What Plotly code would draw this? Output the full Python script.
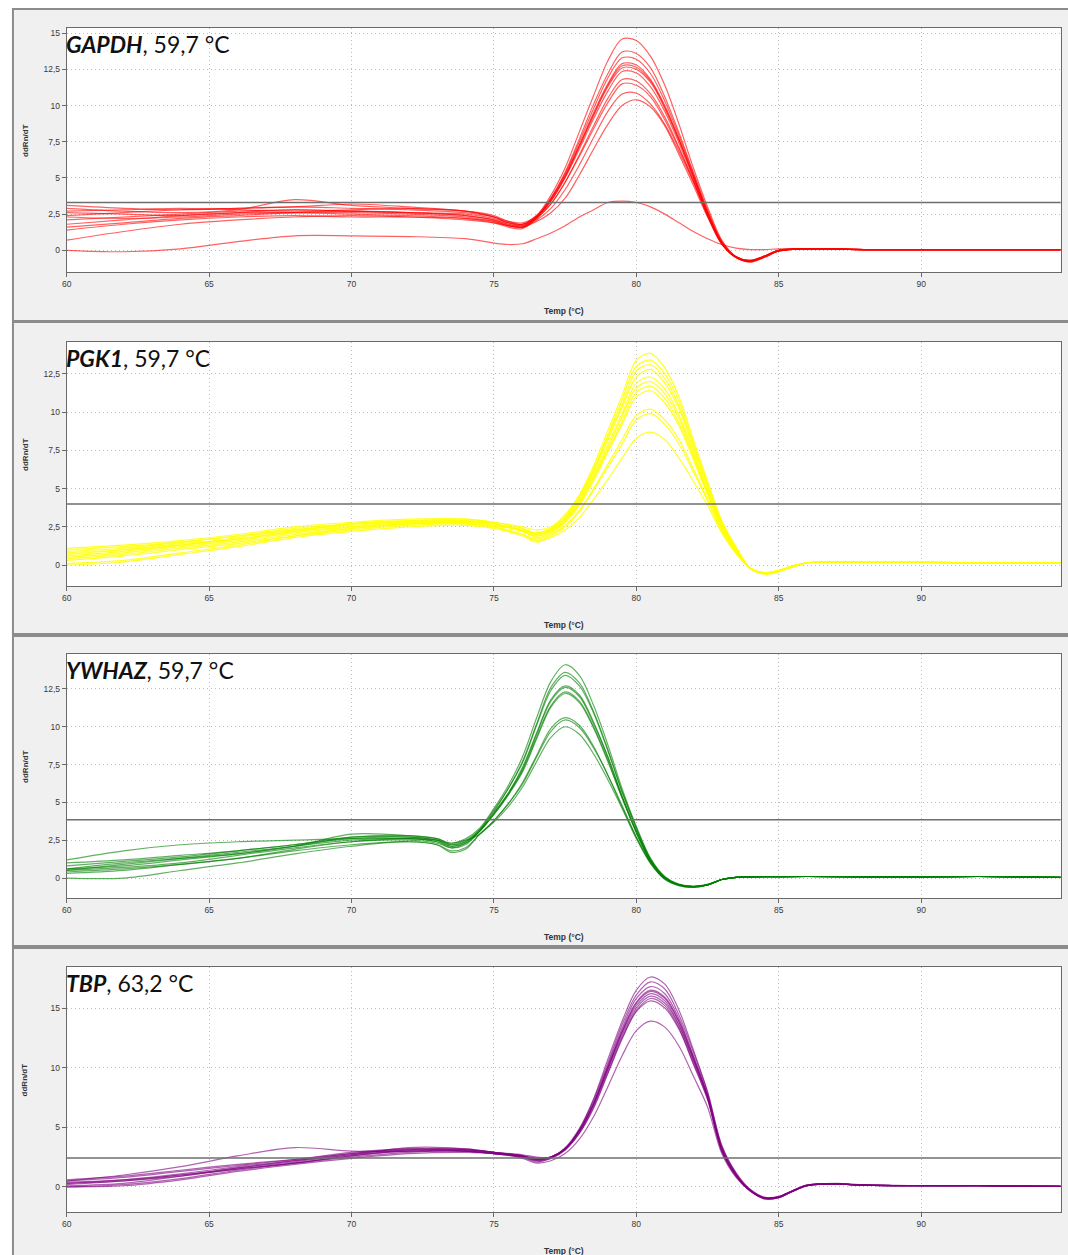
import plotly.graph_objects as go

W, H = 1068, 1255

# ---------------- GAPDH melt curves (derivative reporter, ddRn/dT) ----------------
gapdh_temp = [60, 62, 64, 66, 68, 70, 72, 74, 75, 75.5, 76, 76.5, 77, 77.5, 78, 78.5, 79, 79.5,
              80, 80.5, 81, 81.5, 82, 82.5, 83, 83.5, 84, 84.5, 85, 86, 88, 90, 92, 94.9]
gapdh_curves = [
    [3.1, 2.9, 2.8, 2.9, 3.0, 2.9, 2.8, 2.6, 2.3, 2.0, 1.9, 2.4, 3.8, 5.7, 8.2, 10.7, 13.1, 14.6, 14.5, 13.4, 11.4, 8.7, 5.7, 3.0, 0.7, -0.45, -0.8, -0.45, -0.05, 0.1, 0.05, 0.05, 0.05, 0.05],
    [2.9, 2.7, 2.6, 2.8, 3.5, 3.1, 2.9, 2.7, 2.4, 2.0, 1.8, 2.4, 3.6, 5.4, 7.7, 10.1, 12.2, 13.7, 13.6, 12.6, 10.6, 8.1, 5.4, 2.8, 0.6, -0.5, -0.75, -0.4, 0.0, 0.1, 0.05, 0.05, 0.05, 0.05],
    [2.7, 2.8, 2.9, 2.8, 2.7, 2.8, 2.9, 2.7, 2.3, 1.9, 1.8, 2.3, 3.6, 5.3, 7.5, 9.8, 11.9, 13.3, 13.2, 12.2, 10.3, 7.9, 5.3, 2.7, 0.6, -0.45, -0.75, -0.45, -0.05, 0.1, 0.05, 0.05, 0.05, 0.05],
    [2.6, 2.5, 2.4, 2.6, 2.8, 2.7, 2.6, 2.4, 2.1, 1.8, 1.7, 2.3, 3.5, 5.2, 7.3, 9.5, 11.5, 12.9, 12.8, 11.8, 10.0, 7.7, 5.2, 2.6, 0.5, -0.5, -0.8, -0.5, -0.05, 0.1, 0.05, 0.05, 0.05, 0.05],
    [2.4, 2.6, 2.8, 2.9, 3.0, 3.2, 3.0, 2.7, 2.3, 1.9, 1.8, 2.3, 3.5, 5.1, 7.2, 9.4, 11.4, 12.75, 12.65, 11.7, 9.9, 7.6, 5.1, 2.6, 0.5, -0.45, -0.7, -0.4, 0.0, 0.1, 0.05, 0.05, 0.05, 0.05],
    [2.3, 2.2, 2.3, 2.5, 2.6, 2.6, 2.5, 2.3, 2.0, 1.7, 1.6, 2.3, 3.4, 5.1, 7.2, 9.3, 11.3, 12.6, 12.5, 11.6, 9.8, 7.6, 5.1, 2.6, 0.5, -0.5, -0.75, -0.45, -0.05, 0.1, 0.05, 0.05, 0.05, 0.05],
    [2.1, 2.3, 2.5, 2.7, 2.8, 2.7, 2.6, 2.5, 2.2, 1.9, 1.7, 2.3, 3.4, 5.0, 7.0, 9.1, 11.0, 12.35, 12.25, 11.3, 9.6, 7.4, 5.0, 2.5, 0.5, -0.45, -0.75, -0.4, 0.0, 0.1, 0.05, 0.05, 0.05, 0.05],
    [1.8, 2.1, 2.4, 2.6, 2.6, 2.5, 2.4, 2.2, 1.9, 1.6, 1.5, 2.2, 3.2, 4.7, 6.6, 8.6, 10.5, 11.8, 11.7, 10.8, 9.2, 7.1, 4.8, 2.4, 0.45, -0.5, -0.8, -0.45, -0.05, 0.1, 0.05, 0.05, 0.05, 0.05],
    [1.6, 1.9, 2.2, 2.4, 2.6, 2.7, 2.6, 2.4, 2.1, 1.8, 1.6, 2.2, 3.2, 4.7, 6.5, 8.4, 10.2, 11.5, 11.4, 10.6, 9.0, 7.0, 4.8, 2.4, 0.45, -0.45, -0.7, -0.4, 0.0, 0.1, 0.05, 0.05, 0.05, 0.05],
    [1.4, 1.8, 2.1, 2.3, 2.4, 2.3, 2.3, 2.2, 2.0, 1.7, 1.6, 2.1, 2.9, 4.2, 5.9, 7.8, 9.6, 10.8, 10.85, 10.1, 8.7, 6.8, 4.7, 2.4, 0.4, -0.5, -0.75, -0.45, -0.05, 0.1, 0.05, 0.05, 0.05, 0.05],
    [0.7, 1.3, 1.8, 2.1, 2.3, 2.4, 2.3, 2.1, 1.9, 1.7, 1.6, 2.0, 2.6, 3.6, 5.2, 7.0, 8.7, 10.0, 10.4, 9.9, 8.6, 6.6, 4.5, 2.3, 0.45, -0.45, -0.7, -0.4, 0.0, 0.1, 0.05, 0.05, 0.05, 0.05],
    [0.0, -0.1, 0.1, 0.6, 1.0, 1.0, 0.95, 0.8, 0.5, 0.4, 0.45, 0.8, 1.2, 1.7, 2.3, 2.8, 3.3, 3.4, 3.3, 3.0, 2.5, 1.9, 1.3, 0.8, 0.4, 0.15, 0.05, 0.05, 0.1, 0.1, 0.05, 0.05, 0.05, 0.05],
]
gapdh_threshold = 3.3

# ---------------- PGK1 ----------------
pgk1_temp = [60, 62, 64, 66, 68, 70, 72, 74, 75, 76, 76.5, 77, 77.5, 78, 78.5, 79, 79.5, 80, 80.5,
             81, 81.5, 82, 82.5, 83, 83.5, 84, 84.5, 85, 85.5, 86, 87, 88, 90, 92, 94.9]
pgk1_curves = [
    [1.1, 1.3, 1.6, 2.0, 2.5, 2.8, 3.0, 3.0, 2.8, 2.5, 2.3, 2.5, 3.3, 4.6, 6.5, 8.8, 11.1, 13.4, 13.85, 12.9, 11.0, 8.2, 5.5, 2.9, 1.2, -0.2, -0.55, -0.4, -0.1, 0.15, 0.2, 0.18, 0.17, 0.16, 0.16],
    [1.0, 1.2, 1.5, 1.9, 2.4, 2.7, 2.9, 2.9, 2.7, 2.3, 2.1, 2.4, 3.2, 4.5, 6.3, 8.5, 10.8, 13.0, 13.4, 12.5, 10.7, 8.0, 5.3, 2.8, 1.1, -0.25, -0.55, -0.4, -0.1, 0.15, 0.2, 0.18, 0.17, 0.16, 0.16],
    [0.9, 1.1, 1.5, 1.9, 2.3, 2.7, 2.9, 3.0, 2.8, 2.4, 2.1, 2.4, 3.1, 4.4, 6.2, 8.4, 10.5, 12.7, 13.1, 12.2, 10.4, 7.8, 5.2, 2.7, 1.1, -0.2, -0.5, -0.35, -0.05, 0.15, 0.2, 0.18, 0.17, 0.16, 0.16],
    [0.8, 1.0, 1.3, 1.8, 2.3, 2.6, 2.8, 2.9, 2.7, 2.3, 2.0, 2.3, 3.0, 4.3, 6.1, 8.2, 10.3, 12.3, 12.8, 11.9, 10.2, 7.6, 5.1, 2.7, 1.0, -0.2, -0.55, -0.4, -0.1, 0.15, 0.2, 0.18, 0.17, 0.16, 0.16],
    [0.7, 1.0, 1.4, 1.7, 2.2, 2.7, 2.8, 2.8, 2.6, 2.3, 2.0, 2.3, 3.0, 4.2, 5.9, 7.9, 9.9, 11.9, 12.3, 11.5, 9.8, 7.4, 4.9, 2.6, 1.0, -0.2, -0.55, -0.4, -0.1, 0.15, 0.2, 0.18, 0.17, 0.16, 0.16],
    [0.6, 0.9, 1.3, 1.7, 2.2, 2.5, 2.7, 2.8, 2.7, 2.2, 1.9, 2.2, 2.9, 4.1, 5.8, 7.7, 9.7, 11.6, 12.0, 11.2, 9.6, 7.2, 4.8, 2.5, 0.95, -0.25, -0.6, -0.45, -0.1, 0.15, 0.2, 0.18, 0.17, 0.16, 0.16],
    [0.5, 0.8, 1.2, 1.6, 2.1, 2.5, 2.8, 2.9, 2.7, 2.2, 1.9, 2.2, 2.9, 4.0, 5.7, 7.5, 9.4, 11.3, 11.7, 10.9, 9.3, 7.1, 4.7, 2.5, 0.9, -0.2, -0.55, -0.4, -0.1, 0.15, 0.2, 0.18, 0.17, 0.16, 0.16],
    [0.4, 0.7, 1.1, 1.5, 2.0, 2.4, 2.7, 2.8, 2.6, 2.2, 1.8, 2.1, 2.8, 3.9, 5.5, 7.4, 9.2, 11.0, 11.4, 10.6, 9.1, 6.9, 4.6, 2.4, 0.9, -0.2, -0.5, -0.35, -0.05, 0.15, 0.2, 0.18, 0.17, 0.16, 0.16],
    [0.3, 0.6, 1.0, 1.4, 1.9, 2.3, 2.6, 2.7, 2.5, 2.0, 1.7, 2.0, 2.6, 3.6, 5.0, 6.6, 8.2, 9.8, 10.2, 9.5, 8.2, 6.3, 4.3, 2.3, 0.8, -0.25, -0.55, -0.4, -0.1, 0.15, 0.2, 0.18, 0.17, 0.16, 0.16],
    [0.1, 0.3, 0.8, 1.3, 1.9, 2.4, 2.7, 2.7, 2.5, 2.0, 1.6, 1.9, 2.5, 3.5, 4.9, 6.4, 7.9, 9.5, 9.9, 9.2, 7.9, 6.1, 4.2, 2.2, 0.8, -0.2, -0.5, -0.35, -0.05, 0.15, 0.2, 0.18, 0.17, 0.16, 0.16],
    [0.0, 0.2, 0.7, 1.2, 1.8, 2.2, 2.5, 2.6, 2.4, 1.9, 1.5, 1.8, 2.3, 3.1, 4.3, 5.6, 7.0, 8.3, 8.7, 8.2, 7.0, 5.5, 3.9, 2.1, 0.75, -0.2, -0.5, -0.35, -0.05, 0.15, 0.2, 0.18, 0.17, 0.16, 0.16],
]
pgk1_threshold = 4.0

# ---------------- YWHAZ ----------------
ywhaz_temp = [60, 62, 64, 66, 68, 70, 72, 73, 73.5, 74, 74.5, 75, 75.5, 76, 76.5, 77, 77.5, 78, 78.5,
              79, 79.5, 80, 80.5, 81, 81.5, 82, 82.5, 83, 83.5, 84, 86, 88, 90, 92, 94.9]
ywhaz_curves = [
    [1.2, 1.8, 2.2, 2.4, 2.5, 2.6, 2.6, 2.5, 2.3, 2.6, 3.3, 4.6, 6.1, 8.0, 10.6, 13.0, 14.1, 13.4, 11.4, 8.8, 5.9, 3.4, 1.3, 0.1, -0.4, -0.55, -0.45, -0.1, 0.05, 0.08, 0.1, 0.08, 0.08, 0.1, 0.05],
    [1.0, 1.2, 1.5, 1.8, 2.2, 2.6, 2.7, 2.5, 2.2, 2.5, 3.2, 4.5, 5.9, 7.7, 10.2, 12.6, 13.6, 12.9, 11.0, 8.5, 5.7, 3.3, 1.25, 0.05, -0.45, -0.57, -0.45, -0.1, 0.05, 0.08, 0.1, 0.08, 0.08, 0.1, 0.05],
    [0.8, 1.1, 1.4, 1.8, 2.2, 2.7, 2.7, 2.5, 2.1, 2.4, 3.2, 4.4, 5.9, 7.6, 10.1, 12.4, 13.4, 12.7, 10.9, 8.4, 5.7, 3.3, 1.2, 0.05, -0.45, -0.6, -0.45, -0.1, 0.05, 0.08, 0.1, 0.08, 0.08, 0.1, 0.05],
    [0.6, 0.8, 1.2, 1.6, 2.1, 2.5, 2.6, 2.4, 2.1, 2.3, 3.1, 4.3, 5.6, 7.3, 9.6, 11.8, 12.7, 12.1, 10.3, 8.0, 5.4, 3.1, 1.15, 0.0, -0.45, -0.57, -0.45, -0.1, 0.05, 0.08, 0.1, 0.08, 0.08, 0.1, 0.05],
    [0.5, 0.9, 1.3, 1.7, 2.1, 2.7, 2.8, 2.6, 2.2, 2.4, 3.1, 4.3, 5.6, 7.2, 9.5, 11.7, 12.6, 12.0, 10.2, 8.0, 5.4, 3.1, 1.1, 0.0, -0.45, -0.57, -0.45, -0.1, 0.05, 0.08, 0.1, 0.08, 0.08, 0.1, 0.05],
    [0.5, 0.7, 1.0, 1.5, 2.0, 2.4, 2.6, 2.4, 2.0, 2.3, 3.1, 4.2, 5.5, 7.1, 9.3, 11.4, 12.3, 11.7, 10.0, 7.8, 5.3, 3.0, 1.1, 0.0, -0.45, -0.57, -0.45, -0.1, 0.05, 0.08, 0.1, 0.08, 0.08, 0.1, 0.05],
    [0.4, 0.6, 0.9, 1.3, 1.9, 2.4, 2.5, 2.3, 2.0, 2.2, 3.1, 4.2, 5.5, 7.0, 9.2, 11.3, 12.2, 11.6, 9.9, 7.7, 5.3, 3.0, 1.1, 0.0, -0.45, -0.57, -0.45, -0.1, 0.05, 0.08, 0.1, 0.08, 0.08, 0.1, 0.05],
    [0.6, 1.0, 1.3, 1.6, 2.1, 2.9, 2.8, 2.6, 2.3, 2.5, 2.9, 3.8, 4.9, 6.3, 8.1, 9.9, 10.6, 10.1, 8.7, 6.8, 4.8, 2.7, 1.0, -0.05, -0.45, -0.55, -0.4, -0.1, 0.05, 0.08, 0.1, 0.08, 0.08, 0.1, 0.05],
    [0.3, 0.5, 0.9, 1.3, 1.8, 2.2, 2.4, 2.2, 1.8, 2.0, 2.9, 3.8, 4.9, 6.2, 8.0, 9.7, 10.45, 9.95, 8.6, 6.8, 4.7, 2.7, 1.0, -0.05, -0.5, -0.6, -0.45, -0.1, 0.05, 0.08, 0.1, 0.08, 0.08, 0.1, 0.05],
    [0.0, 0.0, 0.5, 1.0, 1.6, 2.1, 2.4, 2.2, 1.7, 1.9, 2.9, 3.7, 4.7, 6.0, 7.7, 9.3, 10.0, 9.5, 8.2, 6.5, 4.6, 2.6, 0.95, -0.1, -0.5, -0.6, -0.45, -0.1, 0.05, 0.08, 0.1, 0.08, 0.08, 0.1, 0.05],
]
ywhaz_threshold = 3.85

# ---------------- TBP ----------------
tbp_temp = [60, 62, 64, 66, 68, 70, 72, 74, 75, 76, 76.5, 77, 77.5, 78, 78.5, 79, 79.5, 80, 80.5,
            81, 81.5, 82, 82.5, 83, 83.5, 84, 84.5, 85, 85.5, 86, 87, 88, 90, 92, 94.9]
tbp_curves = [
    [0.6, 0.9, 1.4, 1.9, 2.3, 2.8, 3.1, 3.1, 2.9, 2.7, 2.5, 2.5, 3.3, 4.9, 7.4, 10.7, 13.9, 16.5, 17.6, 17.0, 14.8, 11.5, 8.0, 3.5, 1.2, -0.2, -0.85, -0.8, -0.3, 0.15, 0.25, 0.15, 0.1, 0.1, 0.05],
    [0.5, 0.8, 1.3, 1.8, 2.3, 2.9, 3.2, 3.0, 2.8, 2.6, 2.4, 2.5, 3.2, 4.8, 7.3, 10.4, 13.6, 16.1, 17.2, 16.6, 14.4, 11.3, 7.9, 3.4, 1.1, -0.25, -0.9, -0.8, -0.3, 0.15, 0.25, 0.15, 0.1, 0.1, 0.05],
    [0.4, 0.6, 1.0, 1.6, 2.1, 2.7, 3.0, 3.1, 2.9, 2.6, 2.3, 2.5, 3.2, 4.8, 7.1, 10.2, 13.3, 15.8, 16.8, 16.2, 14.1, 11.0, 7.7, 3.3, 1.1, -0.3, -0.9, -0.85, -0.35, 0.1, 0.25, 0.15, 0.1, 0.1, 0.05],
    [0.3, 0.5, 1.0, 1.5, 2.0, 2.6, 3.1, 3.2, 2.9, 2.5, 2.3, 2.5, 3.2, 4.7, 7.0, 10.05, 13.1, 15.5, 16.5, 15.9, 13.9, 10.9, 7.6, 3.2, 1.0, -0.3, -0.95, -0.85, -0.3, 0.15, 0.25, 0.15, 0.1, 0.1, 0.05],
    [0.5, 1.0, 1.7, 2.6, 3.3, 3.0, 3.0, 3.0, 2.8, 2.6, 2.4, 2.5, 3.2, 4.7, 7.0, 10.0, 13.0, 15.4, 16.4, 15.8, 13.8, 10.8, 7.6, 3.2, 1.0, -0.3, -0.9, -0.8, -0.3, 0.15, 0.3, 0.2, 0.1, 0.1, 0.05],
    [0.2, 0.5, 0.9, 1.5, 2.0, 2.5, 2.9, 3.0, 2.8, 2.5, 2.2, 2.5, 3.2, 4.7, 6.9, 9.9, 12.9, 15.2, 16.2, 15.6, 13.6, 10.7, 7.5, 3.1, 1.0, -0.3, -0.95, -0.85, -0.35, 0.1, 0.25, 0.15, 0.1, 0.1, 0.05],
    [0.1, 0.3, 0.9, 1.6, 2.2, 2.8, 3.2, 3.1, 2.9, 2.6, 2.3, 2.5, 3.2, 4.6, 6.9, 9.8, 12.7, 15.0, 16.0, 15.4, 13.5, 10.6, 7.5, 3.1, 0.95, -0.35, -0.95, -0.9, -0.35, 0.1, 0.25, 0.15, 0.1, 0.1, 0.05],
    [0.0, 0.2, 0.7, 1.4, 2.0, 2.6, 3.0, 3.0, 2.8, 2.5, 2.1, 2.4, 3.1, 4.5, 6.7, 9.6, 12.5, 14.8, 15.8, 15.2, 13.3, 10.4, 7.4, 3.0, 0.9, -0.35, -1.0, -0.9, -0.35, 0.1, 0.25, 0.15, 0.1, 0.1, 0.05],
    [0.3, 0.6, 1.1, 1.7, 2.2, 2.7, 3.3, 3.2, 2.9, 2.6, 2.2, 2.4, 3.1, 4.5, 6.6, 9.5, 12.4, 14.7, 15.6, 15.0, 13.2, 10.3, 7.3, 3.0, 0.9, -0.3, -0.95, -0.85, -0.3, 0.15, 0.25, 0.15, 0.1, 0.1, 0.05],
    [0.0, 0.1, 0.6, 1.3, 1.9, 2.4, 2.8, 2.9, 2.8, 2.4, 2.0, 2.2, 2.8, 4.0, 5.9, 8.4, 11.0, 13.1, 13.9, 13.4, 11.8, 9.3, 6.7, 2.8, 0.8, -0.35, -1.0, -0.9, -0.35, 0.1, 0.25, 0.15, 0.1, 0.1, 0.05],
]
tbp_threshold = 2.43

gene_names = ["GAPDH", "PGK1", "YWHAZ", "TBP"]
anneal_temps = ["59,7", "59,7", "59,7", "63,2"]
line_colors = ["rgba(255,0,0,0.62)", "rgba(255,255,0,0.85)",
               "rgba(0,128,0,0.62)", "rgba(128,0,128,0.62)"]

x_ticks = [60, 65, 70, 75, 80, 85, 90]
y_ticks_a = [0, 2.5, 5, 7.5, 10, 12.5, 15]
y_ticks_b = [0, 5, 10, 15]

panels = [
    dict(temp=gapdh_temp, curves=gapdh_curves, thr=gapdh_threshold,
         yrange=[-1.5, 15.36], yticks=y_ticks_a, top=28, bottom=272, box=(9, 321)),
    dict(temp=pgk1_temp, curves=pgk1_curves, thr=pgk1_threshold,
         yrange=[-1.37, 14.59], yticks=y_ticks_a[:-1], top=342, bottom=586, box=(322, 634)),
    dict(temp=ywhaz_temp, curves=ywhaz_curves, thr=ywhaz_threshold,
         yrange=[-1.32, 14.81], yticks=y_ticks_a[:-1], top=654, bottom=898, box=(636, 946)),
    dict(temp=tbp_temp, curves=tbp_curves, thr=tbp_threshold,
         yrange=[-2.1, 18.44], yticks=y_ticks_b, top=967, bottom=1212, box=(948, 1262)),
]


def fmt(v):
    s = ("%g" % v)
    return s.replace(".", ",")


X_LEFT, X_RIGHT = 62, 1060.7
fig = go.Figure()
shapes = []
annotations = []
tick_font = dict(family="Liberation Sans, Arial, sans-serif", size=8.5, color="#3a3a3a")

for i, p in enumerate(panels):
    n = "" if i == 0 else str(i + 1)
    xa, ya = "x" + n, "y" + n
    for row in p["curves"]:
        fig.add_trace(go.Scatter(
            x=p["temp"], y=row, mode="lines", xaxis=xa, yaxis=ya,
            line=dict(color=line_colors[i], width=1.2, shape="spline", smoothing=0.9),
            hoverinfo="skip", showlegend=False))

    dom_y = [1 - p["bottom"] / H, 1 - p["top"] / H]
    axis_common = dict(showline=True, mirror=True, linecolor="#6a6a6a", linewidth=1,
                       showgrid=True, gridcolor="#bdbdbd", griddash="1px,3px", gridwidth=1,
                       zeroline=False, ticks="outside", ticklen=4, tickcolor="#6a6a6a",
                       tickfont=tick_font)
    fig.update_layout({
        "xaxis" + n: dict(domain=[X_LEFT / W, X_RIGHT / W], range=[60, 94.9], anchor=ya,
                          tickvals=x_ticks, ticktext=[str(t) for t in x_ticks], **axis_common),
        "yaxis" + n: dict(domain=dom_y, range=p["yrange"], anchor=xa,
                          tickvals=p["yticks"], ticktext=[fmt(t) for t in p["yticks"]],
                          **axis_common),
    })

    # grey panel frame with a white plotting area on top of it
    y0, y1 = p["box"]
    shapes.append(dict(type="rect", xref="paper", yref="paper", layer="below",
                       x0=8 / W, x1=1.02, y0=1 - y1 / H, y1=1 - y0 / H,
                       fillcolor="#f0f0f0", line=dict(color="#8c8c8c", width=2)))
    shapes.append(dict(type="rect", xref="paper", yref="paper", layer="below",
                       x0=X_LEFT / W, x1=X_RIGHT / W, y0=dom_y[0], y1=dom_y[1],
                       fillcolor="white", line=dict(width=0)))
    # threshold line
    shapes.append(dict(type="line", xref=xa + " domain", yref=ya, x0=0, x1=1,
                       y0=p["thr"], y1=p["thr"], layer="above",
                       line=dict(color="#6e6e6e", width=1.5)))

    # gene label
    annotations.append(dict(
        xref="paper", yref="paper", x=59 / W, y=1 - (p["top"] + 0) / H,
        xanchor="left", yanchor="top", showarrow=False,
        text="<b><i>%s</i></b>, %s °C" % (gene_names[i], anneal_temps[i]),
        font=dict(family="Lato, Open Sans, sans-serif", size=23, color="#111111")))
    # axis titles
    annotations.append(dict(
        xref="paper", yref="paper", x=(X_LEFT + X_RIGHT) / 2 / W,
        y=1 - (p["bottom"] + 39) / H, xanchor="center", yanchor="middle", showarrow=False,
        text="<b>Temp (°C)</b>",
        font=dict(family="Liberation Sans, Arial, sans-serif", size=8.5, color="#333333")))
    annotations.append(dict(
        xref="paper", yref="paper", x=20 / W, y=1 - ((p["top"] + p["bottom"]) / 2 - 10) / H,
        xanchor="center", yanchor="middle", showarrow=False, textangle=-90,
        text="<b>ddRn/dT</b>",
        font=dict(family="Liberation Sans, Arial, sans-serif", size=8, color="#333333")))

fig.update_layout(
    width=W, height=H, margin=dict(l=0, r=0, t=0, b=0),
    paper_bgcolor="white", plot_bgcolor="white",
    shapes=shapes, annotations=annotations, showlegend=False)

fig.write_html("out.html")
